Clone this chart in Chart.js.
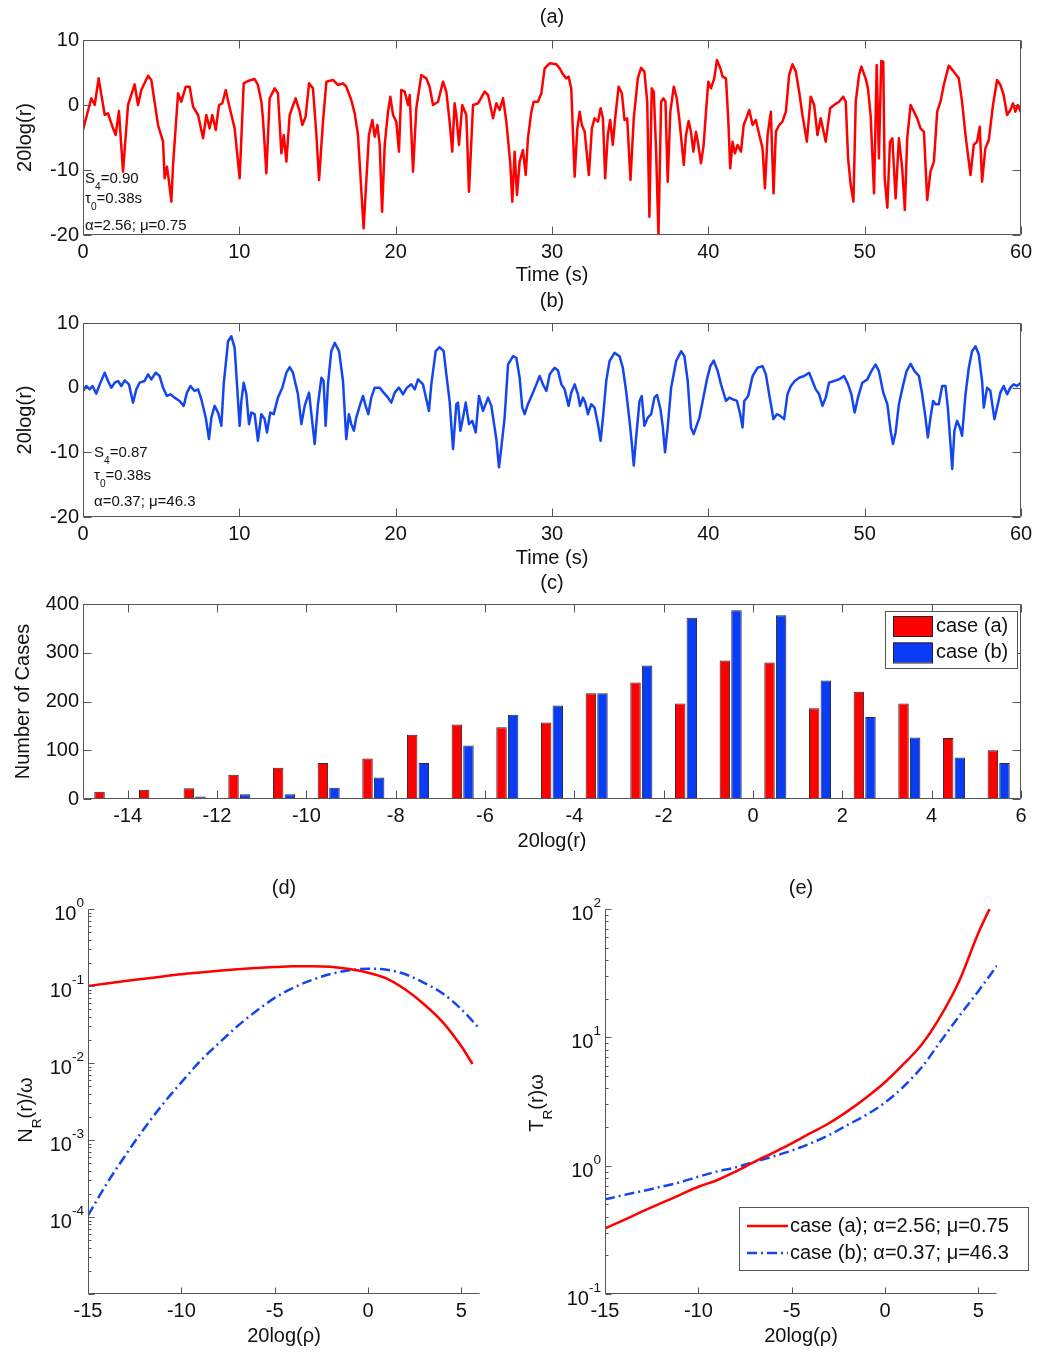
<!DOCTYPE html>
<html>
<head>
<meta charset="utf-8">
<script src="https://cdn.jsdelivr.net/npm/chart.js@4.4.0/dist/chart.umd.min.js"></script>
<style>
  body { margin: 0; background: #fff; }
  #fig { position: relative; width: 1049px; height: 1353px; background: #fff; }
  #fig canvas { position: absolute; }
</style>
</head>
<body>
<div id="fig">
  <canvas id="chartA" width="1049" height="290" style="left:0;top:0"></canvas>
  <canvas id="chartB" width="1049" height="282" style="left:0;top:290px"></canvas>
  <canvas id="chartC" width="1049" height="288" style="left:0;top:572px"></canvas>
  <canvas id="chartD" width="520" height="493" style="left:0;top:860px"></canvas>
  <canvas id="chartE" width="529" height="493" style="left:520px;top:860px"></canvas>
</div>
<script>
// ---- panel (a): 20log(r) vs time, case (a)
const timeA = [0.00,0.53,0.75,1.00,1.39,1.60,1.81,1.92,2.09,2.30,2.56,2.88,3.30,3.52,3.73,4.16,4.37,4.80,5.12,5.22,
  5.37,5.50,5.65,5.76,6.08,6.29,6.57,6.82,7.04,7.36,7.68,7.89,8.10,8.27,8.49,8.70,8.91,9.13,9.34,9.70,
  10.02,10.28,10.55,10.98,11.19,11.41,11.51,11.73,11.94,12.26,12.47,12.69,12.84,13.01,13.22,13.60,13.86,14.03,14.24,14.46,
  14.71,14.93,15.10,15.35,15.57,15.99,16.31,16.63,16.84,17.16,17.38,17.59,17.95,18.12,18.29,18.51,18.66,18.83,18.98,19.13,
  19.30,19.51,19.66,19.83,20.04,20.21,20.36,20.58,20.79,20.90,21.11,21.32,21.64,21.96,22.17,22.39,22.71,23.03,23.24,23.45,
  23.62,23.77,23.88,24.05,24.26,24.52,24.69,24.95,25.27,25.69,25.91,26.23,26.44,26.65,26.87,27.08,27.33,27.46,27.61,27.76,
  27.93,28.14,28.32,28.46,28.68,28.83,29.10,29.32,29.53,29.85,
  30.28,30.49,30.70,30.91,31.06,31.23,31.45,31.62,31.77,31.91,32.09,32.36,32.55,32.72,32.94,33.11,33.26,33.40,33.57,33.72,
  33.89,34.04,34.26,34.47,34.64,34.81,35.02,35.23,35.49,35.70,35.91,36.09,36.23,36.38,36.51,36.66,36.81,36.98,37.13,37.26,
  37.40,37.57,37.79,37.98,38.15,38.43,38.57,38.74,38.89,39.04,39.21,39.36,39.53,39.70,39.85,40.00,40.17,40.38,40.55,40.77,
  40.91,41.13,41.28,41.40,41.55,41.70,41.87,42.09,42.26,42.47,42.62,42.83,43.04,43.26,43.47,43.62,43.79,44.00,44.17,44.32,
  44.53,44.74,44.96,45.17,45.38,45.60,45.81,46.02,46.30,46.55,46.77,46.98,47.19,47.51,47.79,48.04,48.36,48.62,48.79,48.94,
  49.11,49.28,49.43,49.64,49.79,50.06,50.21,50.38,50.60,50.77,50.91,51.06,51.19,51.28,51.45,51.62,51.77,51.98,52.19,52.40,
  52.57,52.72,52.94,53.15,53.36,53.57,53.79,54.00,54.21,54.43,54.64,54.85,55.06,55.38,55.70,56.02,56.23,56.45,56.77,56.98,
  57.19,57.36,57.51,57.72,57.94,58.21,58.47,58.68,58.89,59.11,59.32,59.49,59.64,59.79,60.00];
const levelA = [-3.85,1.03,0,4.1,-1.54,-1.28,-2.82,-3.59,-4.62,-0.92,-10.26,0,3.18,0,2.31,4.51,3.85,-3.08,-5.64,-11.28,
  -9.49,-11.79,-14.87,-9.23,1.8,0.51,2.82,2.82,-0.26,-1.54,-5.13,-1.54,-3.59,-1.54,-3.85,0,0.26,2.31,0,-3.59,
  -11.28,3.33,3.69,4.0,3.08,0.51,-2.05,-10.51,1.03,2.56,1.8,-7.44,-4.62,-8.72,-1.54,1.03,-1.03,-3.08,-1.79,3.33,
  2.56,-4.62,-11.54,-2.56,3.59,3.85,3.08,3.33,2.82,0.77,-1.28,-4.62,-18.97,-11.79,-4.62,-2.31,-4.87,-3.08,-6.15,-16.41,
  -6.15,-1.03,1.28,-1.54,-2.56,-7.18,2.31,2.05,0,1.54,-10.26,-0.51,4.62,4.1,2.82,0,0.51,3.59,2.05,-2.56,
  -7.18,0.26,-1.54,-6.15,0,-1.54,-13.33,0,0.26,2.05,1.54,-2.05,0.26,-0.77,1.03,-2.56,-8.97,-14.87,-7.18,-13.85,
  -8.72,-6.92,-10.77,-5.13,-1.03,0.51,0.51,1.8,5.64,6.41,
  6.26,5.64,4.72,4.1,4.36,2.56,-11.03,-3.59,-1.03,-3.08,-4.1,-10.77,-3.59,-2.05,-2.56,-0.51,-2.05,-11.28,-4.62,-2.31,
  -6.15,-2.05,2.82,1.8,-2.31,-2.05,-11.54,-2.05,4.1,5.74,5.13,0.51,-17.18,2.56,2.05,-7.18,-20,0.51,1.03,0.51,
  -11.79,-1.03,2.82,1.03,-2.31,-9.23,-4.62,-2.46,-4.1,-7.18,-4.1,-6.15,-8.97,-6.15,-1.03,3.59,2.56,4.1,6.92,5.64,
  4.36,4.1,-2.56,-9.74,-5.64,-7.44,-6.15,-7.18,-3.08,-1.79,-0.77,-3.08,-2.31,-4.62,-6.67,-12.82,-4.62,-1.03,-13.59,-4.1,
  -3.08,-2.56,-1.03,4.62,6.26,5.13,2.05,-1.54,-5.64,1.28,0,-4.62,-2.05,-5.64,-0.51,0,0.51,1.28,0.51,-8.21,
  -12.31,-14.87,0.51,4.62,5.9,4.1,2.56,-1.54,-13.59,6.15,-8.21,6.77,6.67,-11.28,-15.79,-5.64,-5.13,-14.36,-5.13,-9.74,
  -16.15,-5.13,0,-1.03,-2.05,-3.59,-4.1,-14.62,-10.26,-8.72,-1.03,0.51,3.08,6.05,5.13,4.1,0.51,-4.62,-10.77,-6.15,
  -5.64,-3.33,-11.79,-6.67,-5.38,0,3.85,3.08,1.54,-1.54,-0.77,0.26,-1.03,0,-1.13];

// ---- panel (b): 20log(r) vs time, case (b)
const timeB = [0.00,0.21,0.43,0.60,0.85,1.07,1.39,1.60,1.81,2.03,2.24,2.45,2.67,2.94,3.20,3.41,3.62,3.94,4.16,4.37,
  4.65,4.90,5.12,5.37,5.59,5.86,6.18,6.44,6.65,6.87,7.14,7.36,7.57,7.85,8.06,8.21,8.42,8.64,8.85,9.00,
  9.28,9.49,9.70,9.85,10.02,10.13,10.28,10.45,10.62,10.77,10.98,11.19,11.41,11.62,11.77,11.98,12.20,12.47,12.75,13.01,
  13.22,13.43,13.75,13.97,14.18,14.46,14.61,14.82,15.03,15.25,15.39,15.52,15.67,15.88,16.10,16.38,16.63,16.84,17.01,17.16,
  17.33,17.48,17.70,17.91,18.08,18.25,18.44,18.66,18.98,19.23,19.51,19.72,19.94,20.21,20.47,20.72,21.00,21.22,21.43,21.75,
  21.96,22.13,22.28,22.56,22.81,23.07,23.24,23.45,23.67,23.88,23.99,24.14,24.31,24.48,24.69,24.90,25.12,25.33,25.59,25.91,
  26.12,26.44,26.61,26.76,26.97,27.19,27.51,27.72,27.93,28.10,28.25,28.46,28.78,29.00,29.21,29.42,29.64,29.85,
  30.00,30.17,30.38,30.60,30.81,31.06,31.23,31.45,31.66,31.79,31.98,32.13,32.30,32.51,32.72,32.94,33.11,33.26,33.47,33.68,
  34.00,34.32,34.53,34.74,34.96,35.11,35.23,35.38,35.60,35.74,35.91,36.13,36.34,36.55,36.72,36.94,37.09,37.23,37.40,37.62,
  37.94,38.26,38.47,38.68,38.89,39.06,39.21,39.43,39.64,39.91,40.13,40.34,40.60,40.81,41.13,41.34,41.55,41.83,42.04,42.19,
  42.30,42.55,42.83,43.15,43.47,43.68,43.89,44.17,44.38,44.60,44.85,45.06,45.28,45.53,45.81,46.13,46.45,46.66,46.87,47.09,
  47.30,47.51,47.72,48.04,48.36,48.68,48.94,49.15,49.36,49.57,49.85,50.17,50.43,50.70,50.91,51.19,51.45,51.66,51.81,51.98,
  52.19,52.47,52.68,52.94,53.19,53.47,53.68,53.89,54.04,54.21,54.38,54.53,54.74,54.96,55.17,55.32,55.49,55.60,55.74,55.91,
  56.09,56.23,56.45,56.66,56.87,57.09,57.30,57.51,57.62,57.83,58.04,58.30,58.47,58.68,58.89,59.11,59.32,59.53,59.74,60.00];
const levelB = [-0.51,0.26,-0.26,0.26,-0.92,0.51,2.31,1.03,0,0.77,1.03,0.26,1.13,0.51,-2.31,-0.26,0.77,1.03,2.05,1.28,
  2.31,1.8,0,-1.28,-1.03,-1.54,-2.05,-2.82,-0.77,0.26,-0.51,-0.26,-1.79,-4.62,-7.95,-4.62,-2.82,-3.85,-5.9,0.51,
  7.18,7.95,6.15,0.51,-5.9,-2.05,0.77,-1.03,-5.64,-3.85,-4.1,-8.21,-4.1,-4.87,-6.92,-3.85,-4.1,-1.54,0,2.31,
  3.18,2.31,-1.03,-5.64,-2.82,-0.77,-4.1,-8.72,-2.56,1.54,1.03,-5.9,0.51,5.64,6.92,5.64,1.03,-7.95,-4.1,-5.64,
  -6.67,-4.62,-2.82,-1.28,-2.82,-4.1,-1.54,0,0,-0.77,-1.54,-2.31,-0.77,0,-1.03,0,0.51,-0.26,1.28,0.51,
  -1.79,-3.59,0.51,5.64,6.26,5.64,2.05,-2.05,-9.49,-2.56,-2.31,-6.67,-4.62,-2.31,-5.64,-5.13,-6.92,-1.28,-3.59,-1.54,
  -2.82,-7.95,-12.31,-9.23,-4.62,3.59,4.87,4.62,1.54,-3.08,-4.1,-2.56,-0.77,0.51,1.8,0.51,-0.51,2.05,
  2.56,3.08,2.67,0.51,-0.26,-2.82,-0.77,0.51,-1.03,-2.82,-1.54,-2.31,-4.1,-2.56,-3.08,-5.64,-8.21,-4.62,1.03,4.1,
  5.38,4.87,3.08,-0.51,-5.13,-8.72,-12.05,-7.69,-2.05,-1.28,-5.9,-4.62,-4.1,-1.54,-1.13,-3.33,-6.15,-10.0,-6.15,0,
  4.1,5.64,4.87,1.03,-6.15,-7.18,-6.15,-4.62,-2.05,1.28,3.33,4.2,2.56,0.51,-2.05,-1.54,-1.79,-2.05,-4.1,-6.15,
  -2.05,-1.28,1.8,3.08,3.33,2.05,-1.03,-4.87,-4.1,-4.36,-4.87,-1.03,0.26,1.03,1.54,1.8,2.31,1.03,-0.26,-1.03,
  -2.82,-1.54,0.77,1.03,1.28,1.8,0.51,-1.03,-3.85,-1.54,0.77,1.28,2.56,3.59,2.56,-0.77,-2.56,-6.67,-8.72,-6.92,
  -2.56,0.51,2.56,3.69,2.56,1.8,-1.03,-4.62,-7.69,-4.62,-2.05,-2.56,-2.56,0.26,0.26,-3.08,-8.72,-12.56,-6.67,-5.13,
  -6.15,-7.44,-1.03,3.08,5.64,6.41,5.13,1.03,-3.08,0,-0.51,-4.87,-3.08,-0.77,0.26,-1.03,0,0.51,0.26,0.77];

const timeTicks = [0, 10, 20, 30, 40, 50, 60];
const levelTicks = [-20, -10, 0, 10];

// ---- panel (c): histogram
const binCenters = [-14.5,-13.5,-12.5,-11.5,-10.5,-9.5,-8.5,-7.5,-6.5,-5.5,-4.5,-3.5,-2.5,-1.5,-0.5,0.5,1.5,2.5,3.5,4.5,5.5];
const countsA = [15,19,22,50,64,74,83,132,153,147,157,217,239,196,284,280,186,220,196,125,100];
const countsB = [0,0,5,10,10,23,44,74,110,173,192,217,274,372,387,377,243,168,126,85,74];
const binTicks = [-14,-12,-10,-8,-6,-4,-2,0,2,4,6];
const countTicks = [0,100,200,300,400];

// ---- panels (d) and (e)
const rhoA = [-15,-14,-13,-12,-11,-10,-9,-8,-7,-6,-5,-4,-3,-2,-1,0,1,2,3,4,5,5.6];
const rhoB = [-15,-14,-13,-12,-11,-10,-9,-8,-7,-6,-5,-4,-3,-2,-1,0,1,2,3,4,5,6];
const levelRateA = [0.100,0.108,0.116,0.124,0.133,0.142,0.150,0.158,0.165,0.171,0.176,0.180,0.181,0.178,0.166,0.149,0.125,0.090,0.058,0.034,0.0165,0.0097];
const levelRateB = [1.05e-4,2.7e-4,6.3e-4,1.4e-3,2.9e-3,5.6e-3,0.0105,0.018,0.030,0.047,0.070,0.095,0.120,0.143,0.160,0.168,0.163,0.142,0.110,0.080,0.050,0.0275];
const fadeTimeA = [0.324,0.377,0.44,0.51,0.59,0.685,0.77,0.90,1.07,1.26,1.49,1.79,2.14,2.66,3.4,4.47,6.2,8.9,14.8,28,65,100];
const fadeTimeB = [0.546,0.59,0.634,0.685,0.741,0.82,0.90,0.97,1.07,1.18,1.31,1.49,1.73,2.08,2.49,3.1,4.14,5.93,9.4,14.8,22.9,36.2];
const rhoTicks = [-15,-10,-5,0,5];
const decadesD = [-5,-4,-3,-2,-1,0];
const labelsD = [0,-1,-2,-3,-4];
const decadesE = [-1,0,1,2];

const RED = '#ff0000';
const BLUE = '#1446f0';
const BAR_BLUE = '#0b3cf5';
const AXIS = '#555555';
const FONT = '"Liberation Sans", Arial, Helvetica, sans-serif';

Chart.defaults.font.family = FONT;
Chart.defaults.font.size = 20;
Chart.defaults.color = '#111';

function pts(xs, ys) { return xs.map((x, i) => ({ x: x, y: ys[i] })); }

// text with sub (1) / superscript (2) runs
function richWidth(ctx, parts, size) {
  let w = 0;
  parts.forEach(([t, m]) => { ctx.font = (m ? size * 0.68 : size) + 'px ' + FONT; w += ctx.measureText(t).width; });
  return w;
}
function drawRich(ctx, parts, x, y, size) {
  let cx = x;
  parts.forEach(([t, m]) => {
    ctx.font = (m ? size * 0.68 : size) + 'px ' + FONT;
    const dy = m === 1 ? size * 0.45 : (m === 2 ? -size * 0.65 : 0);
    ctx.fillText(t, cx, y + dy);
    cx += ctx.measureText(t).width;
  });
}

const figAxes = {
  id: 'figAxes',
  afterDraw(chart, args, o) {
    const ctx = chart.ctx, a = chart.chartArea;
    const xs = chart.scales.x, ys = chart.scales.y;
    const L = Math.round(a.left) + 0.5, R = Math.round(a.right) - 0.5;
    const T = Math.round(a.top) + 0.5, B = Math.round(a.bottom) - 0.5;
    ctx.save();
    ctx.strokeStyle = AXIS; ctx.lineWidth = 1; ctx.setLineDash([]);
    ctx.beginPath();
    if (o.box) ctx.rect(L, T, R - L, B - T);
    else { ctx.moveTo(L, T); ctx.lineTo(L, B); ctx.lineTo(R, B); }
    const tk = o.tick;
    xs.ticks.forEach(t => {
      const p = Math.round(xs.getPixelForValue(t.value)) + 0.5;
      ctx.moveTo(p, B); ctx.lineTo(p, B - tk);
      if (o.box) { ctx.moveTo(p, T); ctx.lineTo(p, T + tk); }
    });
    ys.ticks.forEach(t => {
      const p = Math.round(ys.getPixelForValue(t.value)) + 0.5;
      ctx.moveTo(L, p); ctx.lineTo(L + tk, p);
      if (o.box) { ctx.moveTo(R, p); ctx.lineTo(R - tk, p); }
    });
    if (o.minor) {
      const e0 = Math.round(Math.log10(ys.min)), e1 = Math.round(Math.log10(ys.max));
      for (let e = e0; e < e1; e++) {
        for (let k = 2; k <= 9; k++) {
          const p = Math.round(ys.getPixelForValue(k * Math.pow(10, e))) + 0.5;
          ctx.moveTo(L, p); ctx.lineTo(L + o.minor, p);
        }
      }
    }
    ctx.stroke();

    ctx.fillStyle = '#111';
    if (o.title) {
      ctx.font = '20px ' + FONT; ctx.textAlign = 'center'; ctx.textBaseline = 'middle';
      ctx.fillText(o.title.text, (a.left + a.right) / 2, o.title.y);
    }
    ctx.textAlign = 'left'; ctx.textBaseline = 'alphabetic';
    if (o.logLabels) {
      o.logLabels.forEach(e => {
        const p = ys.getPixelForValue(Math.pow(10, e));
        const parts = [['10', 0], [String(e), 2]];
        const w = richWidth(ctx, parts, 20);
        drawRich(ctx, parts, a.left - 4 - w, p + 11, 20);
      });
    }
    if (o.notes) {
      o.notes.lines.forEach(ln => drawRich(ctx, ln.parts, o.notes.x, ln.y, o.notes.size));
    }
    if (o.yTitle) {
      const w = richWidth(ctx, o.yTitle.parts, 20);
      ctx.save();
      ctx.translate(o.yTitle.x, o.yTitle.y);
      ctx.rotate(-Math.PI / 2);
      drawRich(ctx, o.yTitle.parts, -w / 2, 0, 20);
      ctx.restore();
    }
    if (o.legend) {
      const g = o.legend;
      ctx.fillStyle = '#fff';
      ctx.fillRect(g.left, g.top, g.width, g.height);
      ctx.strokeStyle = AXIS; ctx.lineWidth = 1;
      ctx.strokeRect(g.left + 0.5, g.top + 0.5, g.width, g.height);
      chart.data.datasets.forEach((ds, i) => {
        const y = g.rows[i];
        if (g.sample === 'rect') {
          ctx.fillStyle = ds.backgroundColor;
          ctx.fillRect(g.sx, y - g.sh / 2, g.sw, g.sh);
          ctx.strokeStyle = '#222'; ctx.lineWidth = 1;
          ctx.strokeRect(g.sx + 0.5, y - g.sh / 2 + 0.5, g.sw, g.sh);
        } else {
          ctx.strokeStyle = ds.borderColor; ctx.lineWidth = ds.borderWidth;
          ctx.setLineDash(ds.borderDash || []);
          ctx.beginPath(); ctx.moveTo(g.sx, y); ctx.lineTo(g.sx + g.sw, y); ctx.stroke();
          ctx.setLineDash([]);
        }
        ctx.fillStyle = '#111'; ctx.font = '20px ' + FONT; ctx.textBaseline = 'middle';
        ctx.fillText(ds.label, g.tx, y);
        ctx.textBaseline = 'alphabetic';
      });
    }
    ctx.restore();
  }
};

function fixedTicks(list) { return s => { s.ticks = list.map(v => ({ value: v })); }; }

function baseOptions(pad, figOpts) {
  return {
    animation: false, responsive: false, events: [],
    layout: { padding: pad },
    plugins: { legend: { display: false }, tooltip: { enabled: false }, figAxes: figOpts },
    scales: {}
  };
}

function tracePanel(id, times, levels, color, padTop, titleY, notes, titlePad) {
  const opts = baseOptions({ top: padTop, right: 28, left: 0, bottom: 0 }, {
    box: true, tick: 8, title: { text: titleY.text, y: titleY.y }, notes: notes
  });
  opts.scales = {
    x: {
      type: 'linear', min: 0, max: 60,
      afterBuildTicks: fixedTicks(timeTicks),
      afterFit: s => { s.height = 55; },
      grid: { display: false, drawTicks: false }, border: { display: false },
      ticks: { padding: 5, autoSkip: false, maxRotation: 0, color: '#111' },
      title: { display: true, text: 'Time (s)', color: '#111', padding: { top: 0, bottom: titlePad } }
    },
    y: {
      type: 'linear', min: -20, max: 10,
      afterBuildTicks: fixedTicks(levelTicks),
      afterFit: s => { s.width = 83; },
      grid: { display: false, drawTicks: false }, border: { display: false },
      ticks: { padding: 4, color: '#111' },
      title: { display: true, text: '20log(r)', color: '#111', padding: { top: 13, bottom: 0 } }
    }
  };
  return new Chart(document.getElementById(id), {
    type: 'line',
    data: { datasets: [{ data: pts(times, levels), borderColor: color, borderWidth: 2.5, pointRadius: 0, tension: 0, borderJoinStyle: 'round' }] },
    options: opts,
    plugins: [figAxes]
  });
}

tracePanel('chartA', timeA, levelA, RED, 40, { text: '(a)', y: 17.5 }, {
  x: 85, size: 15, lines: [
    { y: 183, parts: [['S', 0], ['4', 1], ['=0.90', 0]] },
    { y: 203, parts: [['τ', 0], ['0', 1], ['=0.38s', 0]] },
    { y: 230, parts: [['α=2.56; μ=0.75', 0]] }
  ]
}, 3);

tracePanel('chartB', timeB, levelB, BLUE, 33, { text: '(b)', y: 11 }, {
  x: 94, size: 15, lines: [
    { y: 167, parts: [['S', 0], ['4', 1], ['=0.87', 0]] },
    { y: 190, parts: [['τ', 0], ['0', 1], ['=0.38s', 0]] },
    { y: 216, parts: [['α=0.37; μ=46.3', 0]] }
  ]
}, 2);

// ---- (c) histogram
(function () {
  const opts = baseOptions({ top: 32, right: 28, left: 0, bottom: 0 }, {
    box: true, tick: 8, title: { text: '(c)', y: 11 },
    legend: { left: 885, top: 39, width: 132, height: 57, sample: 'rect', sx: 893, sw: 39, sh: 20, tx: 936, rows: [54, 80.5] }
  });
  opts.scales = {
    x: {
      type: 'linear', min: -15, max: 6, offset: false,
      afterBuildTicks: fixedTicks(binTicks),
      afterFit: s => { s.height = 61; },
      grid: { display: false, drawTicks: false, offset: false }, border: { display: false },
      ticks: { padding: 5, autoSkip: false, maxRotation: 0, color: '#111' },
      title: { display: true, text: '20log(r)', color: '#111', padding: { top: 0, bottom: 7 } }
    },
    y: {
      type: 'linear', min: 0, max: 400,
      afterBuildTicks: fixedTicks(countTicks),
      afterFit: s => { s.width = 83; },
      grid: { display: false, drawTicks: false }, border: { display: false },
      ticks: { padding: 4, color: '#111' },
      title: { display: true, text: 'Number of Cases', color: '#111', padding: { top: 11, bottom: 0 } }
    }
  };
  new Chart(document.getElementById('chartC'), {
    type: 'bar',
    data: {
      datasets: [
        { label: 'case (a)', data: pts(binCenters, countsA), backgroundColor: RED, borderColor: '#2a2a2a', borderWidth: 1, categoryPercentage: 0.52, barPercentage: 0.9 },
        { label: 'case (b)', data: pts(binCenters, countsB), backgroundColor: BAR_BLUE, borderColor: '#2a2a2a', borderWidth: 1, categoryPercentage: 0.52, barPercentage: 0.9 }
      ]
    },
    options: opts,
    plugins: [figAxes]
  });
})();

// ---- (d) and (e) log panels
function logPanel(id, padRight, yWidth, yMin, yMax, decades, labels, dsA, dsB, fig) {
  fig.logLabels = labels;
  const opts = baseOptions({ top: 49, right: padRight, left: 0, bottom: 0 }, fig);
  opts.scales = {
    x: {
      type: 'linear', min: -15, max: 6,
      afterBuildTicks: fixedTicks(rhoTicks),
      afterFit: s => { s.height = 59; },
      grid: { display: false, drawTicks: false }, border: { display: false },
      ticks: { padding: 5, autoSkip: false, maxRotation: 0, color: '#111' },
      title: { display: true, text: '20log(ρ)', color: '#111', padding: { top: 0, bottom: 5 } }
    },
    y: {
      type: 'logarithmic', min: yMin, max: yMax,
      afterBuildTicks: fixedTicks(decades.map(e => Math.pow(10, e))),
      afterFit: s => { s.width = yWidth; },
      grid: { display: false, drawTicks: false }, border: { display: false },
      ticks: { display: false }
    }
  };
  return new Chart(document.getElementById(id), {
    type: 'line',
    data: {
      datasets: [
        Object.assign({ borderColor: RED, borderWidth: 2.5, pointRadius: 0, cubicInterpolationMode: 'monotone' }, dsA),
        Object.assign({ borderColor: BLUE, borderWidth: 2.5, pointRadius: 0, cubicInterpolationMode: 'monotone', borderDash: [10, 4, 2, 4] }, dsB)
      ]
    },
    options: opts,
    plugins: [figAxes]
  });
}

logPanel('chartD', 40, 88, 1e-5, 1, decadesD, labelsD,
  { label: 'case (a)', data: pts(rhoA, levelRateA) },
  { label: 'case (b)', data: pts(rhoB, levelRateB) },
  { box: false, tick: 6, minor: 3, title: { text: '(d)', y: 28 },
    yTitle: { x: 32, y: 250, parts: [['N', 0], ['R', 1], ['(r)/ω', 0]] } });

logPanel('chartE', 52, 85, 0.1, 100, decadesE, decadesE,
  { label: 'case (a); α=2.56; μ=0.75', data: pts(rhoA, fadeTimeA) },
  { label: 'case (b); α=0.37; μ=46.3', data: pts(rhoB, fadeTimeB) },
  { box: false, tick: 6, minor: 3, title: { text: '(e)', y: 28 },
    yTitle: { x: 23, y: 243, parts: [['T', 0], ['R', 1], ['(r)ω', 0]] },
    legend: { left: 219, top: 347, width: 289, height: 63, sample: 'line', sx: 227, sw: 41, sh: 0, tx: 270, rows: [366, 393] } });
</script>
</body>
</html>
